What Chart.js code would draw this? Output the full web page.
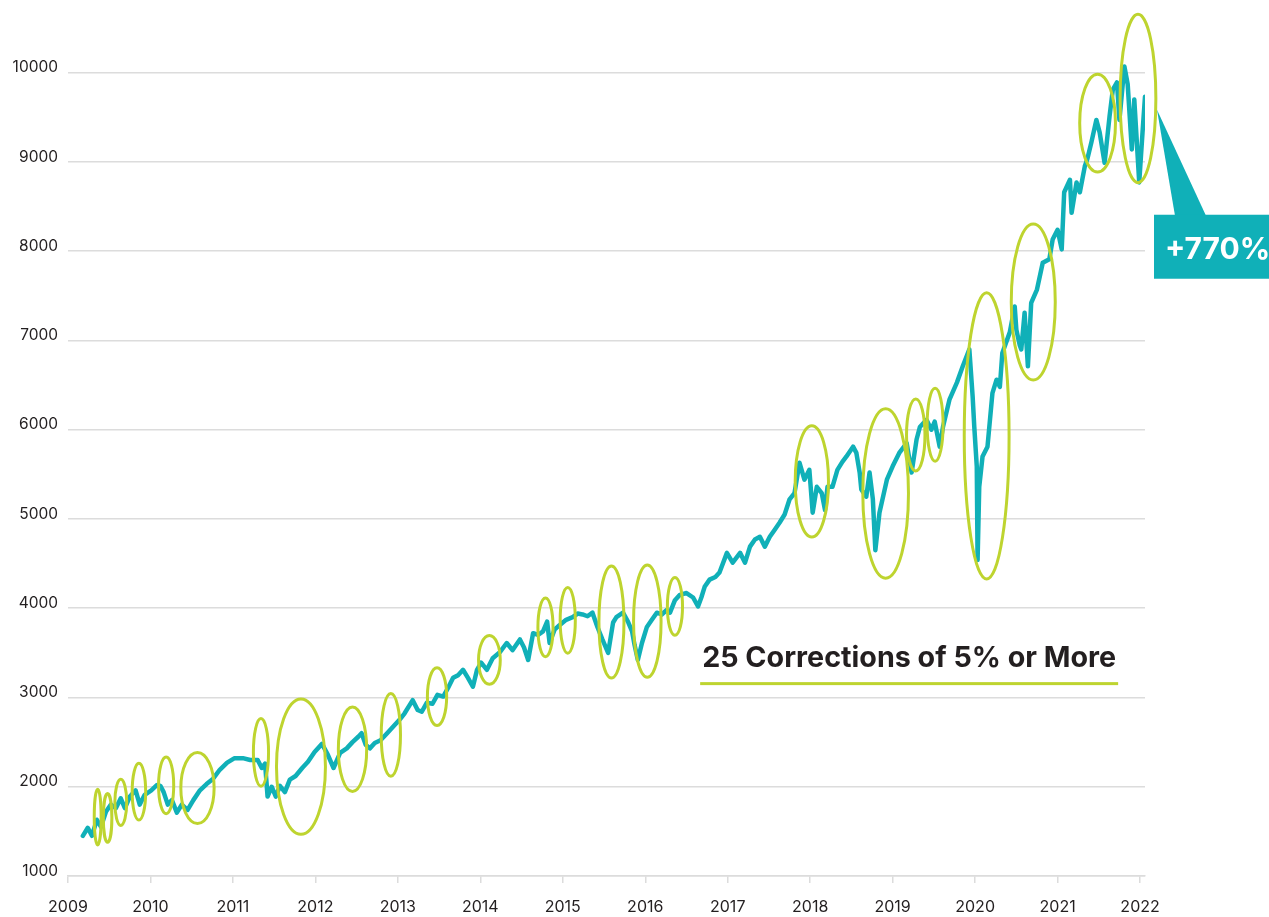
<!DOCTYPE html>
<html>
<head>
<meta charset="utf-8">
<title>25 Corrections of 5% or More</title>
<script src="https://cdn.jsdelivr.net/npm/chart.js@4.4.1/dist/chart.umd.min.js"></script>
<style>
  html, body { margin: 0; padding: 0; background: #ffffff; }
  #wrap { width: 1269px; height: 917px; }
</style>
</head>
<body>
<div id="wrap"><canvas id="indexChart" width="1269" height="917"></canvas></div>
<script>
// Index level (decimal year, level)
const dates = [
  2009.18, 2009.24, 2009.29, 2009.35, 2009.40, 2009.46, 2009.52, 2009.58, 2009.64, 2009.69,
  2009.75, 2009.82, 2009.87, 2009.93, 2010.01, 2010.08, 2010.12, 2010.16, 2010.21, 2010.26,
  2010.32, 2010.38, 2010.45, 2010.52, 2010.60, 2010.68, 2010.76, 2010.84, 2010.93, 2011.02,
  2011.12, 2011.21, 2011.30, 2011.35, 2011.39, 2011.42, 2011.47, 2011.52, 2011.57, 2011.63,
  2011.69, 2011.76, 2011.84, 2011.91, 2011.99, 2012.08, 2012.15, 2012.22, 2012.30, 2012.38,
  2012.45, 2012.52, 2012.56, 2012.61, 2012.66, 2012.72, 2012.79, 2012.87, 2012.95, 2013.02,
  2013.08, 2013.18, 2013.24, 2013.29, 2013.35, 2013.42, 2013.48, 2013.55, 2013.61, 2013.67,
  2013.73, 2013.79, 2013.85, 2013.91, 2013.96, 2014.01, 2014.08, 2014.15, 2014.24, 2014.32,
  2014.39, 2014.48, 2014.53, 2014.58, 2014.64, 2014.70, 2014.76, 2014.81, 2014.84, 2014.90,
  2014.96, 2015.04, 2015.12, 2015.18, 2015.24, 2015.30, 2015.36, 2015.42, 2015.48, 2015.55,
  2015.61, 2015.65, 2015.73, 2015.79, 2015.84, 2015.87, 2015.91, 2015.96, 2016.02, 2016.08,
  2016.14, 2016.20, 2016.26, 2016.30, 2016.36, 2016.42, 2016.50, 2016.58, 2016.64, 2016.68,
  2016.72, 2016.78, 2016.85, 2016.90, 2016.99, 2017.06, 2017.15, 2017.21, 2017.27, 2017.33,
  2017.39, 2017.45, 2017.51, 2017.57, 2017.63, 2017.69, 2017.75, 2017.81, 2017.87, 2017.93,
  2017.99, 2018.03, 2018.08, 2018.14, 2018.18, 2018.21, 2018.27, 2018.33, 2018.39, 2018.44,
  2018.52, 2018.56, 2018.60, 2018.62, 2018.68, 2018.72, 2018.76, 2018.79, 2018.84, 2018.93,
  2019.00, 2019.08, 2019.17, 2019.23, 2019.29, 2019.33, 2019.41, 2019.47, 2019.51, 2019.57,
  2019.61, 2019.69, 2019.78, 2019.85, 2019.93, 2019.97, 2019.99, 2020.02, 2020.03, 2020.05,
  2020.09, 2020.15, 2020.21, 2020.26, 2020.30, 2020.33, 2020.42, 2020.48, 2020.50, 2020.54,
  2020.56, 2020.60, 2020.64, 2020.68, 2020.75, 2020.82, 2020.90, 2020.94, 2021.00, 2021.05,
  2021.08, 2021.15, 2021.17, 2021.23, 2021.27, 2021.33, 2021.36, 2021.41, 2021.47, 2021.51,
  2021.57, 2021.63, 2021.67, 2021.72, 2021.75, 2021.81, 2021.85, 2021.90, 2021.93, 2021.99,
  2022.03, 2022.06
]
const levels = [
  1450, 1540, 1450, 1630, 1550, 1720, 1800, 1760, 1870, 1760,
  1890, 1960, 1800, 1910, 1960, 2020, 2010, 1940, 1800, 1850,
  1710, 1800, 1740, 1850, 1960, 2030, 2090, 2190, 2270, 2320,
  2320, 2300, 2300, 2210, 2260, 1890, 2000, 1890, 2010, 1940,
  2080, 2120, 2210, 2280, 2390, 2480, 2360, 2210, 2380, 2430,
  2500, 2560, 2600, 2470, 2430, 2490, 2520, 2600, 2680, 2750,
  2820, 2970, 2860, 2840, 2940, 2930, 3030, 3010, 3110, 3220,
  3250, 3310, 3220, 3120, 3310, 3390, 3310, 3440, 3510, 3610,
  3530, 3650, 3560, 3420, 3720, 3700, 3740, 3850, 3610, 3760,
  3810, 3870, 3900, 3940, 3930, 3910, 3950, 3790, 3650, 3500,
  3840, 3900, 3950, 3850, 3740, 3590, 3420, 3610, 3790, 3870,
  3950, 3930, 3980, 3950, 4090, 4150, 4170, 4120, 4020, 4120,
  4240, 4320, 4350, 4400, 4620, 4510, 4620, 4510, 4690, 4770,
  4800, 4690, 4800, 4880, 4960, 5050, 5220, 5290, 5630, 5440,
  5550, 5070, 5360, 5290, 5100, 5360, 5360, 5550, 5640, 5700,
  5810, 5740, 5520, 5330, 5250, 5520, 5220, 4650, 5070, 5440,
  5590, 5740, 5850, 5520, 5890, 6030, 6110, 6000, 6090, 5810,
  6030, 6340, 6530, 6710, 6900, 6370, 6030, 5590, 4540, 5360,
  5700, 5810, 6410, 6560, 6480, 6860, 7090, 7380, 7120, 6950,
  6900, 7310, 6710, 7420, 7570, 7870, 7910, 8130, 8240, 8020,
  8660, 8800, 8430, 8770, 8660, 8950, 9030, 9220, 9470, 9330,
  8990, 9510, 9810, 9890, 9470, 10070, 9870, 9140, 9700, 8770,
  9330, 9730
]

// Axis ticks
const yearTicks = [2009, 2010, 2011, 2012, 2013, 2014, 2015, 2016, 2017, 2018, 2019, 2020, 2021, 2022]
const levelTicks = [1000, 2000, 3000, 4000, 5000, 6000, 7000, 8000, 9000, 10000]

// The 25 circled corrections: time span and level range of each ring
const corrStart = [2009.30, 2009.41, 2009.55, 2009.76, 2010.08, 2010.35, 2011.23, 2011.51, 2012.26, 2012.78,
  2013.34, 2013.96, 2014.68, 2014.95, 2015.42, 2015.84, 2016.25, 2017.80, 2018.62, 2019.15,
  2019.40, 2019.85, 2020.42, 2021.25, 2021.74]
const corrEnd = [2009.42, 2009.55, 2009.73, 2009.96, 2010.30, 2010.79, 2011.45, 2012.14, 2012.64, 2013.05,
  2013.61, 2014.26, 2014.90, 2015.17, 2015.76, 2016.21, 2016.47, 2018.24, 2019.21, 2019.41,
  2019.63, 2020.43, 2020.99, 2021.72, 2022.21]
const corrLow = [1330, 1360, 1550, 1610, 1680, 1570, 1990, 1450, 1930, 2100,
  2670, 3130, 3440, 3480, 3200, 3210, 3680, 4780, 4320, 5520,
  5630, 4310, 6540, 8870, 8750]
const corrHigh = [1990, 1940, 2100, 2280, 2350, 2400, 2780, 3000, 2910, 3060,
  3350, 3710, 4130, 4250, 4490, 4500, 4360, 6060, 6250, 6360,
  6480, 7550, 8320, 10000, 10670]

const captionText = "25 Corrections of 5% or More"
const gainText = "+770%"

const TEAL = "#10b0b8"
const LIME = "#bed42f"
const INK = "#231f20"
const GRID = "#dcdcdc"
const FONT = "Inter, 'Liberation Sans', sans-serif"

/**
 * Rings, caption and the gain callout drawn on top of the line
 */
const overlayPlugin = {
  id: "overlay",
  afterDatasetsDraw(chart) {
    const { ctx, chartArea } = chart
    const xs = chart.scales.x
    const ys = chart.scales.y

    ctx.save()

    // Correction rings
    ctx.strokeStyle = LIME
    ctx.lineWidth = 3
    corrStart.forEach((start, i) => {
      const x0 = xs.getPixelForValue(start)
      const x1 = xs.getPixelForValue(corrEnd[i])
      const yTop = ys.getPixelForValue(corrHigh[i])
      const yBot = ys.getPixelForValue(corrLow[i])
      ctx.beginPath()
      ctx.ellipse((x0 + x1) / 2, (yTop + yBot) / 2, (x1 - x0) / 2 - 1.5, (yBot - yTop) / 2 - 1.5, 0, 0, Math.PI * 2)
      ctx.stroke()
    })

    // Caption with underline
    const capX = xs.getPixelForValue(2016.69)
    const capY = ys.getPixelForValue(3340)
    ctx.font = "700 32px " + FONT
    const natural = ctx.measureText(captionText).width
    const size = 32 * 414 / natural
    ctx.font = "700 " + size.toFixed(1) + "px " + FONT
    ctx.fillStyle = INK
    ctx.textBaseline = "alphabetic"
    ctx.textAlign = "left"
    ctx.fillText(captionText, capX, capY)
    const capW = ctx.measureText(captionText).width
    ctx.fillStyle = LIME
    ctx.fillRect(capX - 2, capY + 15, capW + 4, 3)

    // Gain callout: pointer from the last point down to the box
    const lastX = xs.getPixelForValue(dates[dates.length - 1])
    const lastY = ys.getPixelForValue(levels[levels.length - 1])
    const boxL = chartArea.right + 9
    const boxT = lastY + 118
    ctx.fillStyle = TEAL
    ctx.beginPath()
    ctx.moveTo(lastX + 12, lastY + 13)
    ctx.lineTo(boxL + 21, boxT + 1)
    ctx.lineTo(boxL + 52, boxT + 1)
    ctx.closePath()
    ctx.fill()
    ctx.fillRect(boxL, boxT, chart.width - boxL, 64)
    ctx.fillStyle = "#ffffff"
    ctx.font = "700 30px " + FONT
    ctx.fillText(gainText, boxL + 11, boxT + 44)

    ctx.restore()
  },
}

const ctx = document.getElementById("indexChart")

new Chart(ctx, {
  type: "line",
  data: {
    datasets: [
      {
        data: dates.map((d, i) => ({ x: d, y: levels[i] })),
        borderColor: TEAL,
        borderWidth: 4.5,
        borderJoinStyle: "round",
        borderCapStyle: "round",
        pointRadius: 0,
        tension: 0,
        fill: false,
      },
    ],
  },
  options: {
    responsive: false,
    animation: false,
    devicePixelRatio: 1,
    layout: {
      padding: { top: 28, right: 124, bottom: 0, left: 0 },
    },
    plugins: {
      legend: { display: false },
      tooltip: { enabled: false },
    },
    scales: {
      x: {
        type: "linear",
        min: 2009,
        max: 2022.06,
        afterBuildTicks: (scale) => {
          scale.ticks = yearTicks.map((v) => ({ value: v }))
        },
        afterFit: (scale) => {
          scale.height = 41
        },
        grid: {
          drawOnChartArea: false,
          drawTicks: true,
          tickLength: 7,
          color: GRID,
          lineWidth: 1.5,
        },
        border: { display: true, color: GRID, width: 1.5 },
        ticks: {
          autoSkip: false,
          maxRotation: 0,
          padding: 15,
          color: INK,
          font: { family: FONT, size: 16 },
          callback: (value) => String(value),
        },
      },
      y: {
        min: 1000,
        max: 10500,
        afterBuildTicks: (scale) => {
          scale.ticks = levelTicks.map((v) => ({ value: v }))
        },
        afterFit: (scale) => {
          scale.width = 68
        },
        grid: {
          drawTicks: false,
          color: GRID,
          lineWidth: 1.5,
        },
        border: { display: false },
        ticks: {
          padding: 10,
          labelOffset: -5,
          color: INK,
          font: { family: FONT, size: 15.5 },
          callback: (value) => String(value),
        },
      },
    },
  },
  plugins: [overlayPlugin],
})
</script>
</body>
</html>
